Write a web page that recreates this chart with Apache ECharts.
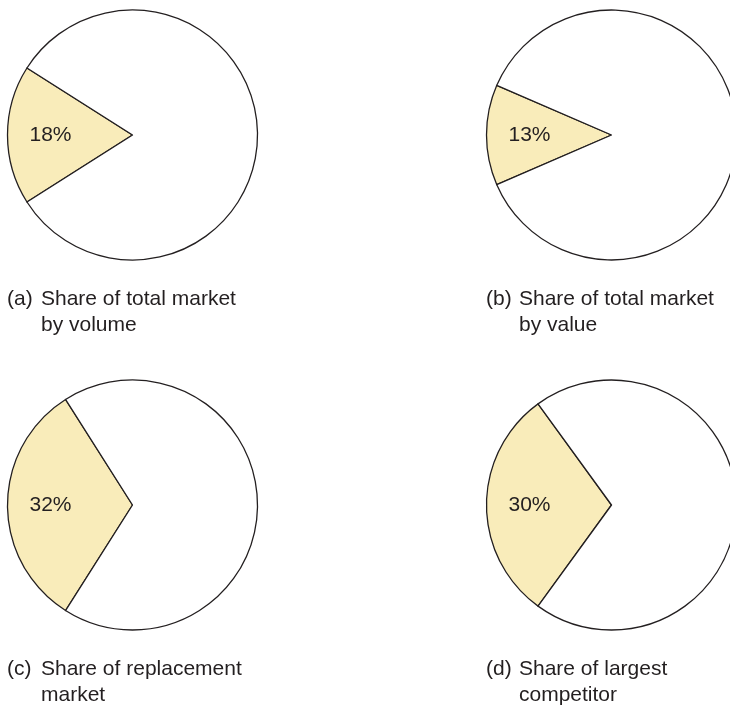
<!DOCTYPE html>
<html>
<head>
<meta charset="utf-8">
<script src="https://cdn.jsdelivr.net/npm/echarts@6/dist/echarts.min.js"></script>
<style>
  html, body { margin: 0; padding: 0; background: #ffffff; }
  #chart { width: 730px; height: 705px; }
</style>
</head>
<body>
<div id="chart"></div>
<script>
// Share held (%) in each market view
const panelTags = ['(a)', '(b)', '(c)', '(d)'];
const captionLines = [
  ['Share of total market', 'by volume'],
  ['Share of total market', 'by value'],
  ['Share of replacement', 'market'],
  ['Share of largest', 'competitor']
];
const shareValues = [18, 13, 32, 30];

// Layout of the 2x2 grid
const centers = [[132.5, 135], [611.5, 135], [132.5, 505], [611.5, 505]];
const radius = 125;
const tagX = [7, 486, 7, 486];
const captionX = [41, 519, 41, 519];
const captionY = [286, 286, 656, 656];

const ink = '#231f20';
const fontFamily = '"Liberation Sans", Arial, Helvetica, sans-serif';

const series = shareValues.map((v, i) => ({
  type: 'pie',
  center: centers[i],
  radius: [0, radius],
  // keep the highlighted slice centred on the 9 o'clock direction
  startAngle: 180 + v * 360 / 200,
  clockwise: true,
  silent: true,
  animation: false,
  avoidLabelOverlap: false,
  labelLine: { show: false },
  itemStyle: { borderColor: ink, borderWidth: 1.3 },
  data: [
    {
      value: v,
      itemStyle: { color: '#f9ecba' },
      label: {
        show: true,
        position: 'inside',
        formatter: '{c}%',
        offset: [-16.5, 0],
        color: ink,
        fontSize: 21,
        fontFamily: fontFamily
      }
    },
    {
      value: 100 - v,
      itemStyle: { color: '#ffffff' },
      label: { show: false }
    }
  ]
}));

const graphics = [];
panelTags.forEach((tag, i) => {
  graphics.push({
    type: 'text', left: tagX[i], top: captionY[i], silent: true,
    style: { text: tag, fill: ink, fontSize: 21, fontFamily: fontFamily, lineHeight: 26 }
  });
  graphics.push({
    type: 'text', left: captionX[i], top: captionY[i], silent: true,
    style: { text: captionLines[i].join('\n'), fill: ink, fontSize: 21, fontFamily: fontFamily, lineHeight: 26 }
  });
});

const chart = echarts.init(document.getElementById('chart'), null, { renderer: 'canvas' });
chart.setOption({
  backgroundColor: '#ffffff',
  animation: false,
  series: series,
  graphic: graphics
});
</script>
</body>
</html>
